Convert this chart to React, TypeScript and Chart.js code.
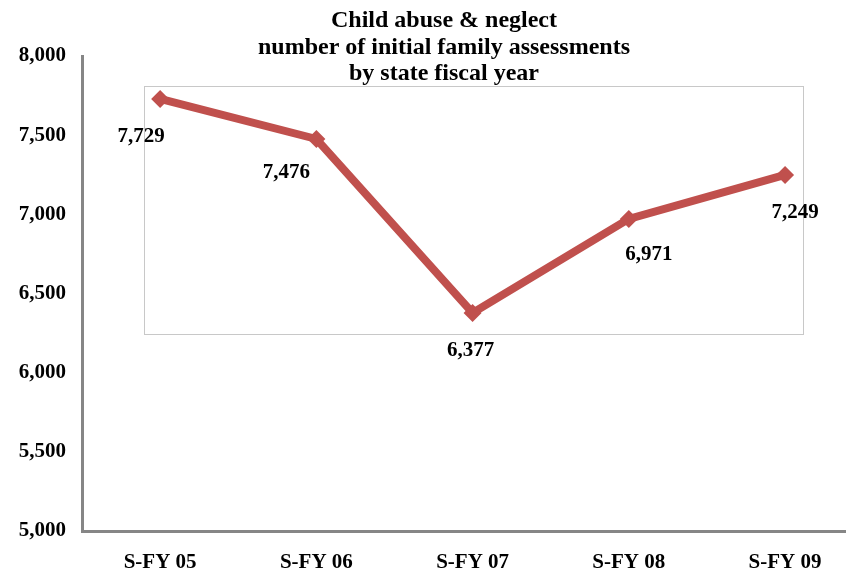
import React, { useEffect, useRef } from "react";
import { Chart, registerables } from "chart.js";

Chart.register(...registerables);

const categories = ["S-FY 05", "S-FY 06", "S-FY 07", "S-FY 08", "S-FY 09"];
const assessments = [7729, 7476, 6377, 6971, 7249];
const titleLines = [
  "Child abuse & neglect",
  "number of initial family assessments",
  "by state fiscal year",
];
const yTicks = [5000, 5500, 6000, 6500, 7000, 7500, 8000];

const FONT = "'Liberation Serif', 'Times New Roman', serif";
const RED = "#C0504D";

const fmt = (v: number) => v.toLocaleString("en-US");

const labelOffsets = [
  [-19, 38],
  [-30, 34],
  [-2, 38],
  [20, 36],
  [10, 38],
];

const overlayPlugin = {
  id: "overlay",
  beforeDatasetsDraw(chart: any) {
    const { ctx, scales } = chart;
    const x = scales.x;
    const y = scales.y;
    const l = x.getPixelForValue(-0.1);
    const r = x.getPixelForValue(4.115);
    const t = y.getPixelForValue(7810);
    const b = y.getPixelForValue(6244);
    ctx.save();
    ctx.strokeStyle = "#C8C8C8";
    ctx.lineWidth = 1;
    ctx.strokeRect(Math.round(l) + 0.5, Math.round(t) + 0.5, Math.round(r - l), Math.round(b - t));
    ctx.restore();
  },
  afterDatasetsDraw(chart: any) {
    const { ctx } = chart;
    const meta = chart.getDatasetMeta(0);
    ctx.save();
    ctx.font = `bold 21px ${FONT}`;
    ctx.fillStyle = "#000";
    ctx.textAlign = "center";
    ctx.textBaseline = "middle";
    meta.data.forEach((pt: any, i: number) => {
      const [dx, dy] = labelOffsets[i];
      ctx.fillText(fmt(assessments[i]), pt.x + dx, pt.y + dy);
    });
    ctx.font = `bold 24px ${FONT}`;
    ctx.textBaseline = "alphabetic";
    const baselines = [27, 54, 80];
    titleLines.forEach((line, i) => {
      ctx.fillText(line, 444, baselines[i]);
    });
    ctx.restore();
  },
};

export default function App() {
  const ref = useRef<HTMLCanvasElement | null>(null);
  useEffect(() => {
    document.body.style.margin = "0";
    if (!ref.current) return;
    const chart = new Chart(ref.current, {
      type: "line",
      data: {
        datasets: [
          {
            data: assessments.map((v, i) => ({ x: i, y: v })),
            borderColor: RED,
            backgroundColor: RED,
            borderWidth: 8,
            pointStyle: "rectRot",
            pointRadius: 9,
            pointBackgroundColor: RED,
            pointBorderColor: RED,
            pointBorderWidth: 0,
            tension: 0,
            clip: false,
          },
        ],
      },
      options: {
        animation: false,
        responsive: false,
        maintainAspectRatio: false,
        layout: { autoPadding: false, padding: { top: 56, left: 17, right: 0, bottom: 0 } },
        plugins: {
          legend: { display: false },
          title: { display: false },
          tooltip: { enabled: false },
        },
        scales: {
          x: {
            type: "linear",
            min: -0.5,
            max: 4.39,
            grid: { display: false, drawTicks: false },
            border: { display: true, color: "#868686", width: 3 },
            afterBuildTicks: (scale: any) => {
              scale.ticks = categories.map((_, i) => ({ value: i }));
            },
            afterFit: (scale: any) => {
              scale.height = 41;
            },
            ticks: {
              padding: 19,
              color: "#000",
              font: { family: FONT, size: 21, weight: "bold" },
              callback: (v: any) => categories[v as number] ?? "",
              maxRotation: 0,
              autoSkip: false,
            },
          },
          y: {
            min: 5000,
            max: 8000,
            grid: { display: false, drawTicks: false },
            border: { display: true, color: "#868686", width: 3 },
            afterBuildTicks: (scale: any) => {
              scale.ticks = yTicks.map((v) => ({ value: v }));
            },
            afterFit: (scale: any) => {
              scale.width = 65;
            },
            ticks: {
              padding: 16,
              color: "#000",
              font: { family: FONT, size: 21, weight: "bold" },
              callback: (v: any) => fmt(Number(v)),
            },
          },
        },
      },
      plugins: [overlayPlugin],
    });
    return () => chart.destroy();
  }, []);
  return (
    <div style={{ width: 846, height: 572 }}>
      <canvas ref={ref} width={846} height={572} style={{ width: 846, height: 572, display: "block" }} />
    </div>
  );
}
